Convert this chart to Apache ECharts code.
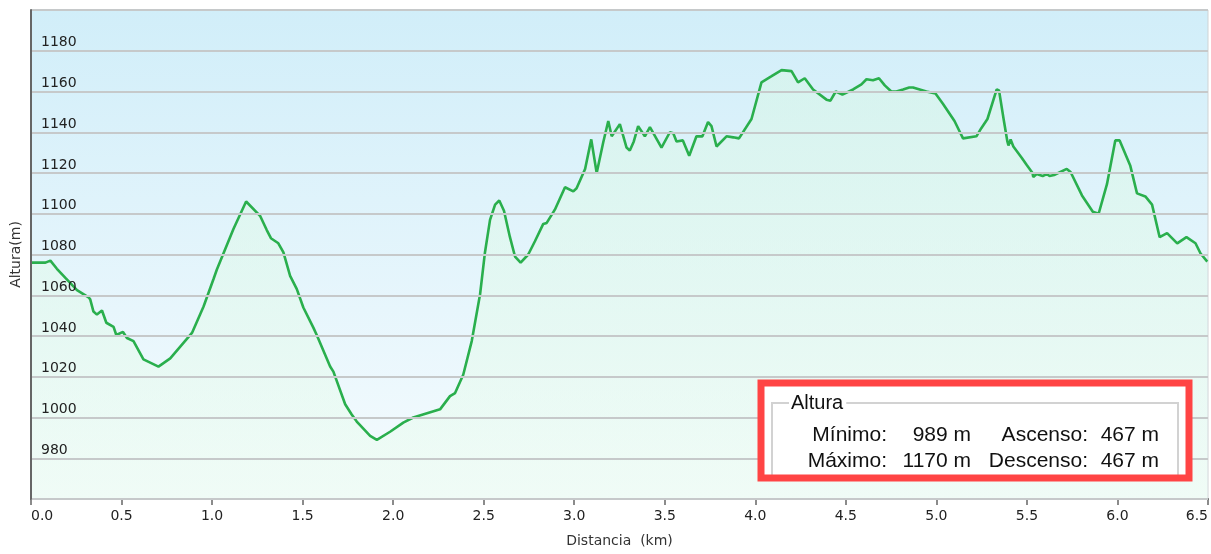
<!DOCTYPE html>
<html lang="es">
  <head>
    <meta charset="UTF-8" />
    <title>Perfil de altura</title>
    <script src="https://cdn.jsdelivr.net/npm/echarts@6/dist/echarts.min.js"></script>
    <style>
      html, body { margin: 0; padding: 0; background: #fff; }
      #main { width: 1211px; height: 554px; }
    </style>
  </head>
  <body>
    <div id="main"></div>
    <script>
      var distKm = [
        0.00, 0.08, 0.107, 0.143, 0.19, 0.254, 0.318, 0.327, 0.345, 0.364,
        0.392, 0.416, 0.456, 0.471, 0.508, 0.53, 0.566, 0.621, 0.704, 0.769,
        0.889, 0.953, 1.008, 1.026, 1.118, 1.188, 1.265, 1.302, 1.325, 1.366,
        1.394, 1.431, 1.468, 1.504, 1.56, 1.578, 1.652, 1.67, 1.735, 1.771,
        1.799, 1.873, 1.91, 1.983, 2.056, 2.111, 2.259, 2.314, 2.342, 2.387,
        2.434, 2.48, 2.507, 2.535, 2.563, 2.586, 2.612, 2.645, 2.673, 2.704,
        2.746, 2.783, 2.829, 2.848, 2.893, 2.949, 2.995, 3.013, 3.06, 3.094,
        3.124, 3.16, 3.188, 3.207, 3.252, 3.289, 3.307, 3.329, 3.353, 3.39,
        3.418, 3.482, 3.528, 3.547, 3.565, 3.6, 3.635, 3.675, 3.708, 3.739,
        3.758, 3.786, 3.841, 3.878, 3.91, 3.979, 4.034, 4.09, 4.145, 4.2,
        4.236, 4.273, 4.319, 4.393, 4.415, 4.444, 4.481, 4.54, 4.586, 4.614,
        4.65, 4.683, 4.715, 4.751, 4.779, 4.816, 4.85, 4.871, 4.945, 4.995,
        5.036, 5.1, 5.125, 5.147, 5.221, 5.248, 5.282, 5.333, 5.346, 5.373,
        5.392, 5.398, 5.41, 5.425, 5.471, 5.498, 5.531, 5.535, 5.554, 5.587,
        5.609, 5.625, 5.65, 5.72, 5.741, 5.804, 5.864, 5.896, 5.942, 5.988,
        6.012, 6.071, 6.108, 6.154, 6.191, 6.233, 6.274, 6.33, 6.381, 6.431,
        6.459, 6.496
      ];
      var altM = [
        1076, 1076, 1077, 1073, 1068.5, 1062.5, 1059, 1058, 1052, 1050.5,
        1052.5, 1046.5, 1044.5, 1040.5, 1042, 1039, 1037.5, 1028.5, 1025, 1029,
        1041.5, 1054.5, 1068, 1072.5, 1092.5, 1106, 1099, 1092, 1088, 1085.5,
        1081, 1069.5, 1063, 1054, 1044, 1040.5, 1025, 1022.5, 1006.5, 1001.5,
        998, 991, 989, 993, 997.5, 1000, 1004, 1010.5, 1012, 1021,
        1037.5, 1060.5, 1081, 1097, 1104.5, 1106.5, 1101.5, 1088.5, 1079, 1076,
        1080, 1086.5, 1095, 1095.5, 1102, 1113, 1111, 1112.5, 1122, 1136.5,
        1120, 1135, 1145.5, 1138, 1144, 1132.5, 1131, 1135.5, 1143, 1138,
        1142.5, 1132.5, 1140, 1139.5, 1135.5, 1136, 1128.5, 1138, 1138, 1145,
        1143, 1133, 1138, 1137.5, 1137, 1146.5, 1164.5, 1167.5, 1170.5, 1170,
        1164.5, 1166.5, 1161, 1156, 1155.5, 1160, 1158.5, 1161, 1163.5, 1166,
        1165.5, 1166.5, 1163, 1160, 1160, 1161, 1162, 1162, 1160, 1159,
        1154, 1145.5, 1141, 1137, 1138, 1142, 1146.5, 1161, 1160.5, 1145.5,
        1135.5, 1133.5, 1136.5, 1133, 1127.5, 1124, 1120, 1118, 1119.5, 1118.5,
        1119.5, 1118.5, 1119, 1122, 1120.5, 1109, 1101, 1100, 1114.5, 1136,
        1136, 1123.5, 1110, 1108.5, 1104.5, 1088.5, 1090.5, 1085.5, 1088.5, 1085.5,
        1080.5, 1076.5
      ];

      var resumenEtiquetas = ['Mínimo:', 'Máximo:', 'Ascenso:', 'Descenso:'];
      var resumenValores = ['989 m', '1170 m', '467 m', '467 m'];

      var puntos = distKm.map(function (d, i) { return [d, altM[i]]; });

      var chart = echarts.init(document.getElementById('main'));

      var textFont = '"Liberation Sans", Arial, sans-serif';
      function txt(str, x, y, align) {
        return {
          type: 'text', x: x, y: y, z: 110,
          style: {
            text: str, fill: '#111', font: '21px ' + textFont,
            align: align, verticalAlign: 'middle'
          }
        };
      }

      var option = {
        animation: false,
        backgroundColor: '#ffffff',
        grid: {
          left: 31, right: 2, top: 10, bottom: 55,
          show: true,
          borderColor: '#cfd3d4',
          borderWidth: 1,
          backgroundColor: {
            type: 'linear', x: 0, y: 0, x2: 0, y2: 1,
            colorStops: [
              { offset: 0, color: '#d1eef9' },
              { offset: 1, color: '#f5fbfe' }
            ]
          }
        },
        xAxis: {
          type: 'value',
          min: 0, max: 6.5, interval: 0.5,
          name: 'Distancia  (km)',
          nameLocation: 'middle',
          nameGap: 35,
          nameTextStyle: { fontFamily: 'DejaVu Sans', fontSize: 14, color: '#333' },
          axisLine: { show: true, lineStyle: { color: '#666', width: 2 } },
          axisTick: { show: true, length: 6, lineStyle: { color: '#666', width: 1.5 } },
          axisLabel: {
            fontFamily: 'DejaVu Sans', fontSize: 14, color: '#222', margin: 10,
            alignMinLabel: 'left', alignMaxLabel: 'right',
            formatter: function (v) { return v.toFixed(1); }
          },
          splitLine: { show: false }
        },
        yAxis: {
          type: 'value',
          z: 10,
          min: 960, max: 1200, interval: 20,
          name: 'Altura(m)',
          nameLocation: 'middle',
          nameGap: 2,
          nameTextStyle: { fontFamily: 'DejaVu Sans', fontSize: 14, color: '#333' },
          axisLine: { show: true, lineStyle: { color: '#666', width: 2 } },
          axisTick: { show: false },
          axisLabel: {
            inside: true, showMinLabel: false, showMaxLabel: false,
            fontFamily: 'DejaVu Sans', fontSize: 14, color: '#222',
            margin: 10, align: 'left', verticalAlign: 'bottom',
            padding: [0, 0, 1, 0],
            formatter: function (v) { return String(v); }
          },
          splitLine: { show: true, lineStyle: { color: '#c6c9ca', width: 1.8 } }
        },
        series: [{
          type: 'line',
          data: puntos,
          showSymbol: false,
          lineStyle: { color: '#2aaf4d', width: 2.6 },
          areaStyle: {
            color: {
              type: 'linear', x: 0, y: 0, x2: 0, y2: 1,
              colorStops: [
                { offset: 0, color: 'rgba(215,248,225,0.6)' },
                { offset: 1, color: 'rgba(235,253,238,0.7)' }
              ]
            }
          },
          z: 3
        }],
        graphic: [
          { type: 'rect', z: 100, shape: { x: 761, y: 383, width: 428, height: 95 },
            style: { fill: '#fff' } },
          { type: 'rect', z: 101, shape: { x: 772, y: 403, width: 406, height: 74 },
            style: { fill: null, stroke: '#d2d2d2', lineWidth: 2 } },
          { type: 'text', x: 789, y: 403, z: 105,
            style: { text: 'Altura', fill: '#111', font: '20px ' + textFont,
              verticalAlign: 'middle', backgroundColor: '#fff', padding: [0, 3, 0, 2] } },
          txt(resumenEtiquetas[0], 887, 435, 'right'),
          txt(resumenValores[0], 971, 435, 'right'),
          txt(resumenEtiquetas[2], 1088, 435, 'right'),
          txt(resumenValores[2], 1159, 435, 'right'),
          txt(resumenEtiquetas[1], 887, 461.5, 'right'),
          txt(resumenValores[1], 971, 461.5, 'right'),
          txt(resumenEtiquetas[3], 1088, 461.5, 'right'),
          txt(resumenValores[3], 1159, 461.5, 'right'),
          { type: 'rect', z: 120, shape: { x: 761, y: 383, width: 428, height: 95 },
            style: { fill: null, stroke: '#ff4444', lineWidth: 7 } }
        ]
      };

      chart.setOption(option);
    </script>
  </body>
</html>
